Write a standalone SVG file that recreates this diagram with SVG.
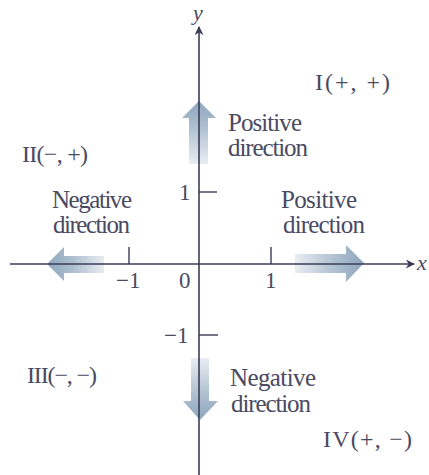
<svg xmlns="http://www.w3.org/2000/svg" width="429" height="475" viewBox="0 0 429 475">
<style>
  text { font-family: "Liberation Serif", "Times New Roman", serif; fill: #4a4a62; }
  .lbl { font-size: 25px; }
  .num { font-size: 23px; }
  .q { font-size: 24px; }
  .ax { stroke: #3c3c58; stroke-width: 1.6; fill: none; }
  .tick { stroke: #3c3c58; stroke-width: 1.4; }
  .it { font-style: italic; font-size: 22px; }
</style>
<defs>
  <marker id="ah" viewBox="0 0 10 10" refX="9" refY="5" markerWidth="9" markerHeight="9" markerUnits="userSpaceOnUse" orient="auto">
    <path d="M0,0 L10,5 L0,10 L3,5 Z" fill="#3c3c58"/>
  </marker>
  <linearGradient id="gUp" gradientUnits="userSpaceOnUse" x1="0" y1="101" x2="0" y2="164">
    <stop offset="0" stop-color="#8fa6bd"/>
    <stop offset="0.4" stop-color="#adbfcf"/>
    <stop offset="1" stop-color="#e8edf2"/>
  </linearGradient>
  <linearGradient id="gDown" gradientUnits="userSpaceOnUse" x1="0" y1="420" x2="0" y2="358">
    <stop offset="0" stop-color="#8fa6bd"/>
    <stop offset="0.4" stop-color="#adbfcf"/>
    <stop offset="1" stop-color="#e8edf2"/>
  </linearGradient>
  <linearGradient id="gLeft" gradientUnits="userSpaceOnUse" x1="47" y1="0" x2="104" y2="0">
    <stop offset="0" stop-color="#8fa6bd"/>
    <stop offset="0.45" stop-color="#adbfcf"/>
    <stop offset="1" stop-color="#e8edf2"/>
  </linearGradient>
  <linearGradient id="gRight" gradientUnits="userSpaceOnUse" x1="364" y1="0" x2="295" y2="0">
    <stop offset="0" stop-color="#8fa6bd"/>
    <stop offset="0.4" stop-color="#adbfcf"/>
    <stop offset="1" stop-color="#e8edf2"/>
  </linearGradient>
</defs>
<rect width="429" height="475" fill="#ffffff"/>

<g id="direction-arrows">
  <polygon id="arrow-up" points="199,101 216,118 208,118 208,164 189,164 189,118 182,118" fill="url(#gUp)"/>
  <polygon id="arrow-down" points="200,420 218,401 209,401 209,358 191,358 191,401 183,401" fill="url(#gDown)"/>
  <polygon id="arrow-left" points="47,264 64,247 64,256 104,256 104,273 64,273 64,281" fill="url(#gLeft)"/>
  <polygon id="arrow-right" points="364,263 346,245 346,254 295,254 295,273 346,273 346,282" fill="url(#gRight)"/>
</g>

<g id="connectors">
  <line id="x-axis" class="ax" x1="10" y1="264" x2="414" y2="264" marker-end="url(#ah)"/>
  <line id="y-axis" class="ax" x1="199" y1="475" x2="199" y2="27" marker-end="url(#ah)"/>
  <line class="tick" x1="129" y1="247" x2="129" y2="264"/>
  <line class="tick" x1="271" y1="247" x2="271" y2="264"/>
  <line class="tick" x1="199" y1="192" x2="217" y2="192"/>
  <line class="tick" x1="199" y1="335" x2="218" y2="335"/>
</g>

<g id="axis-labels">
  <text class="it" x="193" y="20">y</text>
  <text class="it" x="417" y="270">x</text>
  <text class="num" x="116" y="288">−1</text>
  <text class="num" x="179" y="288">0</text>
  <text class="num" x="265" y="288">1</text>
  <text class="num" x="179" y="200">1</text>
  <text class="num" x="164" y="343">−1</text>
</g>

<g id="label-up">
  <text class="lbl" x="228" y="131" textLength="74">Positive</text>
  <text class="lbl" x="228" y="156" textLength="80">direction</text>
</g>
<g id="label-right">
  <text class="lbl" x="281" y="208" textLength="76">Positive</text>
  <text class="lbl" x="283" y="233" textLength="82">direction</text>
</g>
<g id="label-left">
  <text class="lbl" x="52" y="208" textLength="80">Negative</text>
  <text class="lbl" x="53" y="233" textLength="77">direction</text>
</g>
<g id="label-down">
  <text class="lbl" x="230" y="386" textLength="86">Negative</text>
  <text class="lbl" x="231" y="412" textLength="80">direction</text>
</g>

<g id="quadrants">
  <text class="q" x="315" y="90" textLength="75">I(+, +)</text>
  <text class="q" x="22" y="162" textLength="66">II(−, +)</text>
  <text class="q" x="27" y="383" textLength="70">III(−, −)</text>
  <text class="q" x="323" y="447" textLength="89">IV(+, −)</text>
</g>
</svg>
